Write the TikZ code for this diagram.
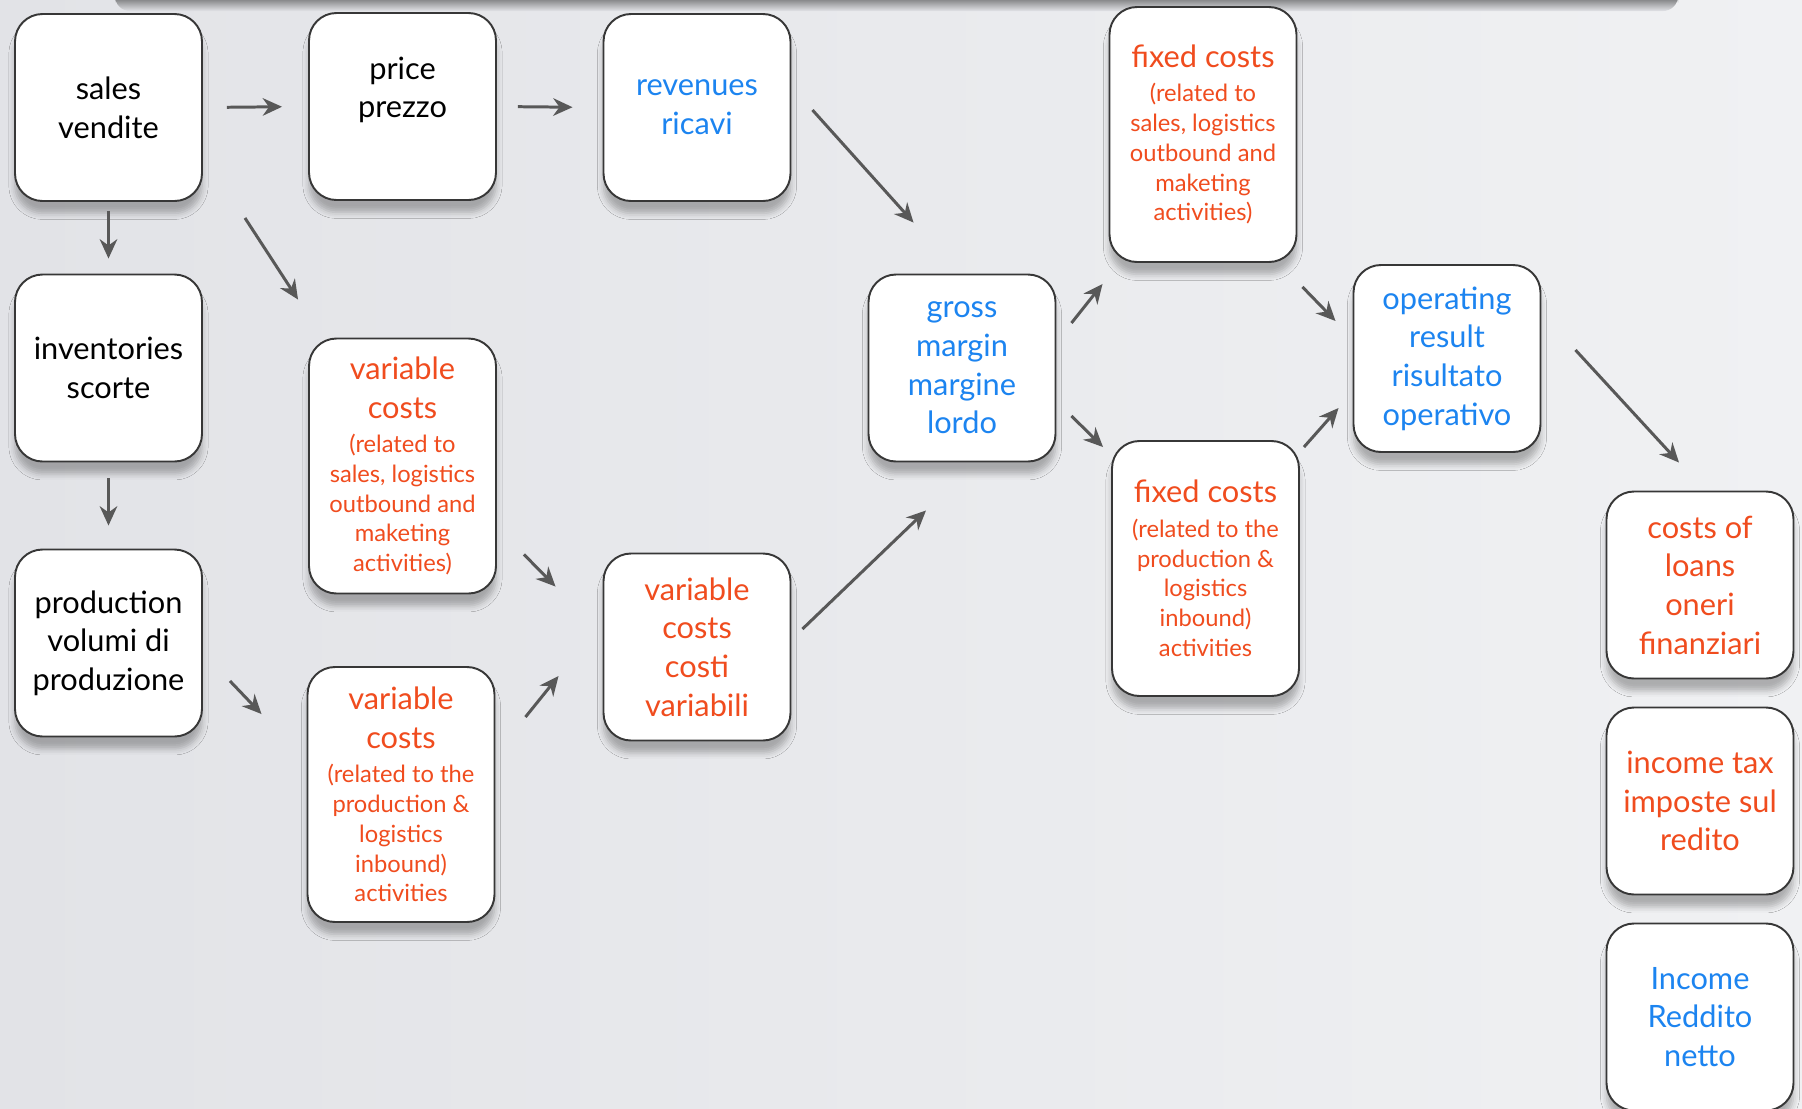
\documentclass[tikz,border=0pt]{standalone}
\usepackage{fontspec}
\setmainfont{Lato}
\usepackage{tikz}
\usetikzlibrary{arrows.meta,shadows.blur}
\definecolor{slideLeft}{RGB}{226,227,231}
\definecolor{slideRight}{RGB}{240,241,243}
\definecolor{boxLine}{RGB}{55,55,55}
\definecolor{costRed}{RGB}{240,76,30}
\definecolor{resultBlue}{RGB}{28,132,240}
\definecolor{arrowGray}{RGB}{88,88,88}
\newcommand{\smallnote}{\fontsize{13.5}{17}\selectfont}

\begin{document}
\begin{tikzpicture}[
      boxtext/.style={align=center, font=\fontsize{17.5}{22}\selectfont},
      box/.style={boxtext, draw=boxLine, line width=1.1pt, fill=white, rounded corners=0.55cm,
        minimum width=3.74cm, minimum height=3.74cm,
        blur shadow={shadow xshift=0pt, shadow yshift=-7pt, shadow blur radius=3.5pt, shadow opacity=28}},
      tallbox/.style={box, minimum height=5.1cm},
      cost/.style={text=costRed},
      result/.style={text=resultBlue},
      arr/.style={draw=arrowGray, line width=1.7pt, -{Stealth[length=11pt,width=10pt]}}
    ]
      \useasboundingbox (0,0) rectangle (36.04,-22.16);
      \shade[left color=slideLeft, right color=slideRight] (0,0) rectangle (36.04,-22.16);
      \shade[top color=black!85, bottom color=slideLeft, rounded corners=0.3cm] (2.3,0.25) rectangle (33.56,-0.22);

      \node[box] (sales) at (2.17,-2.15) {sales\\vendite};
      \node[box] (price) at (8.05,-2.13) {};
      \node[boxtext] (price-txt) at ([yshift=0.33cm]price.center) {price\\prezzo};
      \node[box, result] (revenues) at (13.94,-2.15) {revenues\\ricavi};
      \node[tallbox, cost] (fixsales) at (24.06,-2.69) {fixed costs\\[-2.5pt]\smallnote(related to\\[-5pt]\smallnote sales, logistics\\[-5pt]\smallnote outbound and\\[-5pt]\smallnote maketing\\[-5pt]\smallnote activities)};
      \node[box] (inventories) at (2.17,-7.36) {inventories\\scorte};
      \node[tallbox, cost] (varsales) at (8.05,-9.32) {variable\\costs\\[-2.5pt]\smallnote(related to\\[-5pt]\smallnote sales, logistics\\[-5pt]\smallnote outbound and\\[-5pt]\smallnote maketing\\[-5pt]\smallnote activities)};
      \node[box, result] (gross) at (19.24,-7.36) {gross\\margin\\margine\\lordo};
      \node[box, result] (operating) at (28.94,-7.17) {operating\\result\\risultato\\operativo};
      \node[tallbox, cost] (fixprod) at (24.11,-11.37) {fixed costs\\[-2.5pt]\smallnote(related to the\\[-5pt]\smallnote production \&\\[-5pt]\smallnote logistics\\[-5pt]\smallnote inbound)\\[-5pt]\smallnote activities};
      \node[box] (production) at (2.17,-12.86) {production\\volumi di\\produzione};
      \node[box, cost] (varcosts) at (13.94,-12.94) {variable\\costs\\costi\\variabili};
      \node[tallbox, cost] (varprod) at (8.02,-15.89) {variable\\costs\\[-2.5pt]\smallnote(related to the\\[-5pt]\smallnote production \&\\[-5pt]\smallnote logistics\\[-5pt]\smallnote inbound)\\[-5pt]\smallnote activities};
      \node[box, cost] (loans) at (34.0,-11.70) {costs of\\loans\\oneri\\finanziari};
      \node[box, cost] (tax) at (34.0,-16.02) {income tax\\imposte sul\\redito};
      \node[box, result] (income) at (34.0,-20.34) {Income\\Reddito\\netto};

      \draw[arr, shorten <=0.48cm, shorten >=0.52cm] (sales.east) -- (price.west);
      \draw[arr, shorten <=0.42cm, shorten >=0.6cm] (price.east) -- (revenues.west);
      \draw[arr, shorten <=0.18cm, shorten >=0.3cm] (sales.south) -- (inventories.north);
      \draw[arr, shorten <=0.32cm, shorten >=0.46cm] (inventories.south) -- (production.north);
      \draw[arr] ([shift={(0.84,-0.32)}]sales.south east) -- ([shift={(-0.2,0.76)}]varsales.north west);
      \draw[arr] ([shift={(0.42,-0.05)}]revenues.east) -- ([shift={(0.92,1.02)}]gross.north west);
      \draw[arr] ([shift={(0.54,-0.76)}]production.east) -- ([shift={(-0.9,-0.96)}]varprod.north west);
      \draw[arr] ([shift={(0.54,0.8)}]varsales.south east) -- ([shift={(-0.94,-0.68)}]varcosts.north west);
      \draw[arr] ([shift={(0.6,-1.02)}]varprod.north east) -- ([shift={(-0.88,-0.58)}]varcosts.west);
      \draw[arr] ([shift={(0.22,0.36)}]varcosts.east) -- ([shift={(-0.72,-0.96)}]gross.south);
      \draw[arr] ([shift={(0.3,0.9)}]gross.east) -- ([shift={(-0.12,-0.42)}]fixsales.south west);
      \draw[arr] ([shift={(0.3,-0.96)}]gross.east) -- ([shift={(-0.16,-0.14)}]fixprod.north west);
      \draw[arr] ([shift={(0.1,-0.48)}]fixsales.south east) -- ([shift={(-0.34,0.75)}]operating.west);
      \draw[arr] ([shift={(0.08,-0.14)}]fixprod.north east) -- ([shift={(-0.28,-0.99)}]operating.west);
      \draw[arr] ([shift={(0.68,0.17)}]operating.east) -- ([shift={(-0.42,0.56)}]loans.north);
    \end{tikzpicture}
\end{document}
